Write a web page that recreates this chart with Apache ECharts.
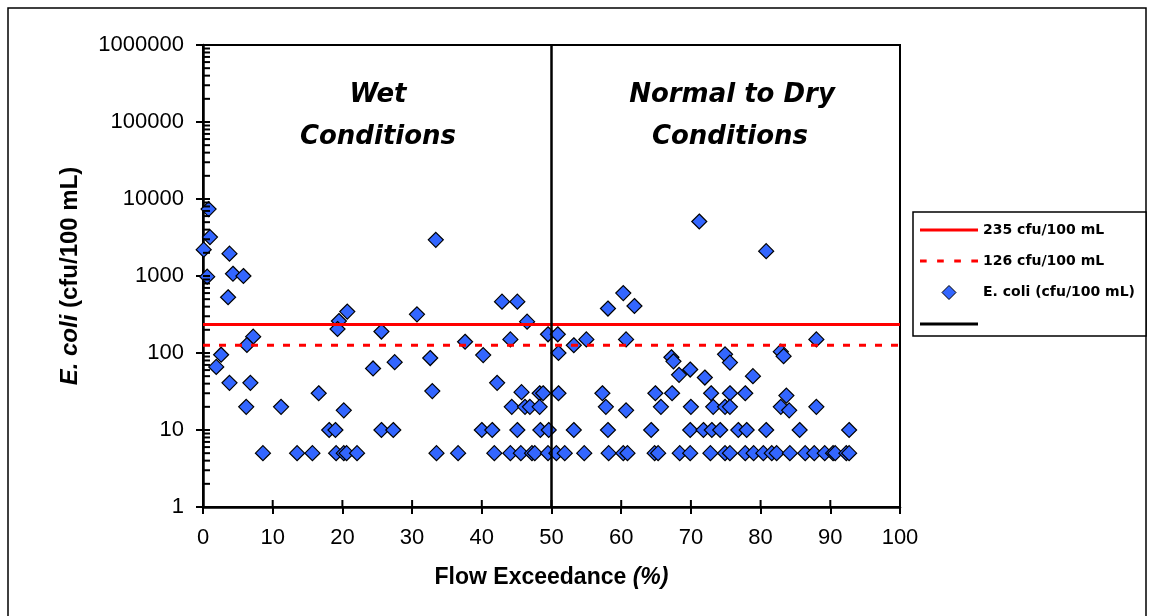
<!DOCTYPE html>
<html>
<head>
<meta charset="utf-8">
<script src="https://cdn.jsdelivr.net/npm/echarts@6/dist/echarts.min.js"></script>
<style>
html, body { margin: 0; padding: 0; background: #fff; }
#chart { width: 1153px; height: 616px; }
</style>
</head>
<body>
<div id="chart"></div>
<script>
// flow exceedance (%), E. coli (cfu/100 mL)
var ecoliSamples = [
	[0.8, 7400], [1.0, 3200], [0.1, 2200], [3.8, 1950], [0.6, 980], [4.3, 1070], [5.8, 1000], [3.6, 530],
	[20.7, 345], [19.5, 260], [19.3, 205], [7.2, 163], [6.3, 127], [2.6, 95], [1.9, 66], [3.8, 41], [6.8, 41],
	[6.2, 20], [11.2, 20], [16.6, 30], [20.2, 18], [18.1, 10], [19.0, 10],
	[8.6, 5], [13.5, 5], [15.7, 5], [19.1, 5], [20.2, 5], [20.6, 5], [22.1, 5], [24.4, 63],
	[33.4, 2950], [25.6, 190], [30.7, 318], [42.9, 464], [45.1, 464], [46.5, 255], [37.6, 140], [44.1, 150],
	[49.5, 175], [27.5, 76], [32.6, 86], [40.2, 94], [32.9, 32], [42.2, 41], [45.7, 31], [48.3, 30], [48.8, 30],
	[44.3, 20], [46.2, 20], [46.9, 20], [48.3, 20], [25.6, 10], [27.3, 10], [40.0, 10], [41.5, 10], [45.1, 10],
	[48.4, 10], [49.6, 10], [33.5, 5], [36.6, 5], [41.8, 5], [44.1, 5], [45.6, 5], [47.2, 5], [47.6, 5], [49.5, 5],
	[50.9, 175], [71.2, 5100], [60.3, 600], [58.1, 378], [61.9, 408], [53.2, 126], [55.0, 150], [51.0, 100],
	[60.7, 150], [67.2, 88], [67.5, 78], [69.9, 61], [68.3, 52], [72.0, 48], [74.9, 96], [75.6, 75],
	[51.0, 30], [57.3, 30], [64.9, 30], [67.3, 30], [72.9, 30], [75.6, 30],
	[57.8, 20], [60.7, 18], [65.7, 20], [70.0, 20], [73.2, 20], [74.9, 20], [75.6, 20],
	[53.2, 10], [58.1, 10], [64.3, 10], [69.9, 10], [71.8, 10], [73.0, 10], [74.2, 10],
	[50.7, 5], [51.9, 5], [54.7, 5], [58.2, 5], [60.3, 5], [60.9, 5], [64.8, 5], [65.3, 5], [68.4, 5], [69.9, 5],
	[72.8, 5], [74.9, 5], [75.6, 5],
	[80.8, 2100], [88.0, 150], [82.9, 104], [83.3, 91], [78.9, 50], [77.8, 30], [83.7, 28], [82.9, 20], [84.1, 18],
	[88.0, 20], [76.8, 10], [78.0, 10], [80.8, 10], [85.6, 10], [92.7, 10],
	[77.8, 5], [79.0, 5], [80.4, 5], [81.6, 5], [82.3, 5], [84.2, 5], [86.4, 5], [87.7, 5], [89.2, 5],
	[90.4, 5], [90.7, 5], [92.3, 5], [92.7, 5]
];

var stdValues = [235, 126];
var stdNames = ['235 cfu/100 mL', '126 cfu/100 mL'];
var splitFlow = 50;
var seriesName = 'E. coli (cfu/100 mL)';
var xRange = [0, 100];
var yRange = [1, 1000000];
var yTickLabels = ['1', '10', '100', '1000', '10000', '100000', '1000000'];
var regionTitles = [['Wet', 'Conditions'], ['Normal to Dry', 'Conditions']];

var comicFont = "'Comic Sans MS', 'DejaVu Sans', sans-serif";
var axisFont = "'Liberation Sans', Arial, sans-serif";

// legend icons: plain bar, dashed bar, square diamond
var solidIcon = 'path://M0,0H58V3H0Z';
var dashIcon = 'path://M0,0H6.5V3H0Z M16.7,0H23.2V3H16.7Z M33.4,0H39.9V3H33.4Z M50.1,0H56.6V3H50.1Z';
var diamondIcon = 'path://M6,0L12,6L6,12L0,6Z';

// inside tick marks (minor ticks on the log axis, inner half of major ticks)
var tickData = [];
for (var e = 0; e < yTickLabels.length; e++) {
	var base = Math.pow(10, e);
	tickData.push([0, base, 1]);
	if (e < yTickLabels.length - 1) {
		for (var m = 2; m < 10; m++) tickData.push([0, base * m, 0]);
	}
}
for (var t = 10; t <= 100; t += 10) tickData.push([t, 1, 2]);

function renderTick(params, api) {
	var kind = api.value(2);
	var p = api.coord([api.value(0), api.value(1)]);
	var len = 7;
	var shape;
	if (kind == 2) {
		shape = { x1: p[0], y1: p[1], x2: p[0], y2: p[1] - len };
	} else {
		shape = { x1: p[0], y1: p[1], x2: p[0] + len, y2: p[1] };
	}
	return { type: 'line', shape: shape, style: { stroke: '#000', lineWidth: 2 } };
}

function titleText(x, y, text) {
	return {
		type: 'text', x: x, y: y,
		style: { text: text, font: 'italic bold 26px ' + comicFont, fill: '#000', textAlign: 'center', textVerticalAlign: 'middle' }
	};
}

var chart = echarts.init(document.getElementById('chart'));

var option = {
	animation: false,
	backgroundColor: '#fff',
	grid: {
		left: 203, right: 253, top: 45, bottom: 109,
		show: true, borderColor: '#000', borderWidth: 2,
		containLabel: false, outerBoundsMode: 'none'
	},
	legend: {
		orient: 'vertical',
		left: 920, top: 223,
		padding: 0,
		itemWidth: 58, itemHeight: 14, itemGap: 17,
		symbolKeepAspect: true,
		data: [
			{ name: stdNames[0], icon: solidIcon, itemStyle: { color: '#ff0000', borderWidth: 0 } },
			{ name: stdNames[1], icon: dashIcon, itemStyle: { color: '#ff0000', borderWidth: 0 } },
			{ name: seriesName, icon: diamondIcon, itemStyle: { color: '#3366ff', borderColor: '#000', borderWidth: 1 } },
			{ name: ' ', icon: solidIcon, itemStyle: { color: '#000', borderWidth: 0 } }
		],
		textStyle: { fontFamily: comicFont, fontWeight: 'bold', fontSize: 14, color: '#000' }
	},
	xAxis: {
		type: 'value',
		min: xRange[0], max: xRange[1], interval: 10,
		axisLine: { lineStyle: { color: '#000', width: 2.5 } },
		axisTick: { show: true, length: 7, lineStyle: { color: '#000', width: 2 } },
		axisLabel: { margin: 20, fontFamily: axisFont, fontSize: 22, color: '#000' },
		splitLine: { show: false },
		name: 'Flow Exceedance {i|(%)}',
		nameLocation: 'middle',
		nameGap: 59,
		nameTextStyle: {
			fontFamily: axisFont, fontWeight: 'bold', fontSize: 23, color: '#000',
			rich: { i: { fontFamily: axisFont, fontWeight: 'bold', fontStyle: 'italic', fontSize: 23, color: '#000' } }
		}
	},
	yAxis: {
		type: 'log', logBase: 10,
		min: yRange[0], max: yRange[1],
		axisLine: { lineStyle: { color: '#000', width: 2.5 } },
		axisTick: { show: true, length: 7, lineStyle: { color: '#000', width: 2 } },
		axisLabel: {
			margin: 19, fontFamily: axisFont, fontSize: 22, color: '#000',
			formatter: function(v) { return yTickLabels[Math.round(Math.log10(v))]; }
		},
		splitLine: { show: false },
		name: '{i|E. coli} (cfu/100 mL)',
		nameLocation: 'middle',
		nameGap: 121,
		nameTextStyle: {
			fontFamily: axisFont, fontWeight: 'bold', fontSize: 24, color: '#000',
			rich: { i: { fontFamily: axisFont, fontWeight: 'bold', fontStyle: 'italic', fontSize: 24, color: '#000' } }
		}
	},
	graphic: [
		{ type: 'rect', z: -10, shape: { x: 8, y: 8, width: 1138, height: 640 }, style: { fill: 'none', stroke: '#000', lineWidth: 1.5 } },
		{ type: 'rect', z: -10, shape: { x: 913, y: 212, width: 233, height: 124 }, style: { fill: '#fff', stroke: '#000', lineWidth: 1.5 } },
		titleText(378, 95, regionTitles[0][0]),
		titleText(378, 137, regionTitles[0][1]),
		titleText(732, 95, regionTitles[1][0]),
		titleText(730, 137, regionTitles[1][1])
	],
	series: [
		{
			name: stdNames[0], type: 'line', symbol: 'none', silent: true,
			data: [[xRange[0], stdValues[0]], [xRange[1], stdValues[0]]],
			itemStyle: { color: '#ff0000' },
			lineStyle: { color: '#ff0000', width: 3 }
		},
		{
			name: stdNames[1], type: 'line', symbol: 'none', silent: true,
			data: [[xRange[0], stdValues[1]], [xRange[1], stdValues[1]]],
			itemStyle: { color: '#ff0000' },
			lineStyle: { color: '#ff0000', width: 3, type: [7, 9] }
		},
		{
			name: seriesName, type: 'scatter',
			symbol: 'diamond', symbolSize: 15,
			data: ecoliSamples,
			itemStyle: { color: '#3366ff', borderColor: '#000', borderWidth: 1.2, opacity: 1 }
		},
		{
			name: ' ', type: 'line', symbol: 'none', silent: true,
			data: [[splitFlow, yRange[0]], [splitFlow, yRange[1]]],
			itemStyle: { color: '#000' },
			lineStyle: { color: '#000', width: 2.5 }
		},
		{
			type: 'custom', silent: true,
			renderItem: renderTick,
			encode: { x: 0, y: 1 },
			data: tickData,
			z: 5
		}
	]
};

chart.setOption(option);
</script>
</body>
</html>
